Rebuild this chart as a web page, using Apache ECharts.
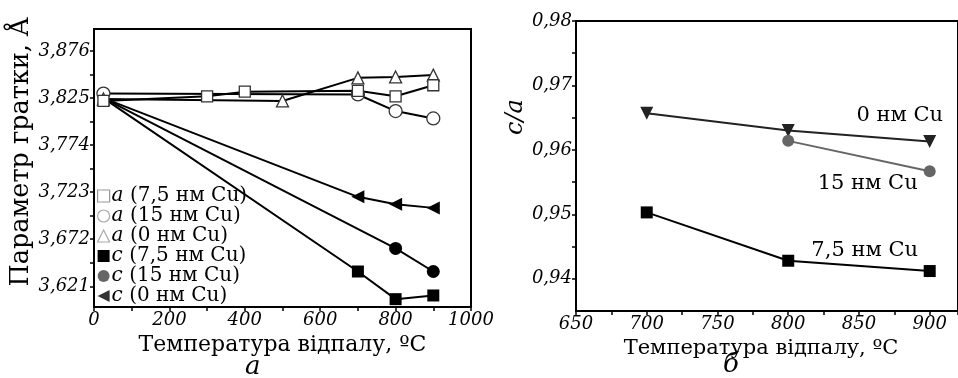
<!DOCTYPE html>
<html><head><meta charset="utf-8">
<script src="https://cdn.jsdelivr.net/npm/echarts@6/dist/echarts.min.js"></script>
<style>html,body{margin:0;padding:0;background:#fff}#c{width:958px;height:378px}</style>
</head><body><div id="c"></div>
<script>
// ---- left panel (а): lattice parameters ----
const tA75 = [25, 300, 400, 700, 800, 900];
const valA75 = [3.822, 3.827, 3.832, 3.833, 3.827, 3.839];
const tA15 = [25, 700, 800, 900];
const valA15 = [3.830, 3.829, 3.811, 3.803];
const tA0 = [25, 500, 700, 800, 900];
const valA0 = [3.824, 3.822, 3.847, 3.848, 3.850];
const tC75 = [25, 700, 800, 900];
const valC75 = [3.825, 3.637, 3.607, 3.611];
const tC15 = [25, 800, 900];
const valC15 = [3.825, 3.662, 3.637];
const tC0 = [25, 700, 800, 900];
const valC0 = [3.825, 3.718, 3.710, 3.706];
const leftYTicks = [3.621, 3.672, 3.723, 3.774, 3.825, 3.876];
const leftNames = ['a (7,5 нм Cu)', 'a (15 нм Cu)', 'a (0 нм Cu)', 'c (7,5 нм Cu)', 'c (15 нм Cu)', 'c (0 нм Cu)'];

// ---- right panel (б): c/a ----
const tR = [700, 800, 900];
const valR0 = [0.9657, 0.9630, 0.9613];
const tR15 = [800, 900];
const valR15 = [0.9614, 0.9567];
const valR75 = [0.9503, 0.9428, 0.9412];
const rightYTicks = [0.94, 0.95, 0.96, 0.97, 0.98];
const rightNames = ['0 нм Cu', '15 нм Cu', '7,5 нм Cu'];

const SERIF = '"DejaVu Serif", "Liberation Serif", serif';
const pairs = (xs, ys) => xs.map((x, i) => [x, ys[i]]);
const comma = (v, d) => v.toFixed(d).replace('.', ',');

function midTicks(arr, lo) {
  const out = [];
  const step = arr[1] - arr[0];
  let v = arr[0] - step / 2;
  while (v >= lo) { out.unshift(+v.toFixed(5)); v -= step / 2; }
  arr.forEach((t, i) => { out.push(t); if (i < arr.length - 1) out.push(+((t + arr[i + 1]) / 2).toFixed(5)); });
  return out;
}

const chart = echarts.init(document.getElementById('c'), null, {renderer: 'canvas'});

const lineBase = {type: 'line', lineStyle: {color: '#000', width: 2}, z: 3, animation: false};
function openS(name, xs, ys, sym, size) {
  return Object.assign({}, lineBase, {
    name, xAxisIndex: 0, yAxisIndex: 0, data: pairs(xs, ys),
    symbol: sym, symbolSize: size, showAllSymbol: true,
    itemStyle: {color: '#fff', borderColor: '#333', borderWidth: 1.3}, z: 4
  });
}
function fillS(name, xs, ys, sym, size, rot) {
  return Object.assign({}, lineBase, {
    name, xAxisIndex: 0, yAxisIndex: 0,
    data: pairs(xs, ys).map((p, i) => i === 0 ? {value: p, symbolSize: 0} : {value: p}),
    symbol: sym, symbolSize: size, symbolRotate: rot || 0, showAllSymbol: true,
    itemStyle: {color: '#000', borderWidth: 0}
  });
}
function rightS(name, xs, ys, sym, size, rot, col, lineCol, off) {
  const d = pairs(xs, ys).map(p => ({value: p}));
  d[d.length - 1].label = {show: true, formatter: name, position: 'inside', offset: off,
    color: '#000', fontFamily: SERIF, fontSize: 21};
  return Object.assign({}, lineBase, {
    name, xAxisIndex: 1, yAxisIndex: 1, data: d,
    symbol: sym, symbolSize: size, symbolRotate: rot || 0, showAllSymbol: true,
    itemStyle: {color: col, borderWidth: 0},
    lineStyle: {color: lineCol, width: 2},
    label: {show: false}
  });
}

const axisCommon = {
  axisLine: {show: true, onZero: false, lineStyle: {color: '#000', width: 2}},
  axisTick: {show: true, inside: false, length: 4, lineStyle: {color: '#000', width: 1.5}},
  splitLine: {show: false},
  axisLabel: {color: '#000', fontFamily: SERIF, fontStyle: 'italic', fontSize: 18, margin: 4}
};

const option = {
  backgroundColor: '#fff',
  animation: false,
  grid: [
    {left: 94, top: 29, width: 377, height: 278, show: true, borderColor: '#000', borderWidth: 2, containLabel: false},
    {left: 576, top: 21, width: 385, height: 290, show: true, borderColor: '#000', borderWidth: 2, containLabel: false}
  ],
  xAxis: [
    Object.assign({}, axisCommon, {
      type: 'value', gridIndex: 0, min: 0, max: 1000, interval: 200,
      minorTick: {show: true, splitNumber: 2, length: 4, lineStyle: {color: '#000', width: 1.5}},
      axisLabel: Object.assign({}, axisCommon.axisLabel, {formatter: v => String(v)}),
      name: 'Температура відпалу, ºC', nameLocation: 'middle', nameGap: 22,
      nameTextStyle: {color: '#000', fontFamily: SERIF, fontSize: 22}
    }),
    Object.assign({}, axisCommon, {
      type: 'value', gridIndex: 1, min: 650, max: 920, interval: 50,
      minorTick: {show: true, splitNumber: 2, length: 4, lineStyle: {color: '#000', width: 1.5}},
      axisLabel: Object.assign({}, axisCommon.axisLabel, {showMaxLabel: false, formatter: v => String(v)}),
      name: 'Температура відпалу, ºC', nameLocation: 'middle', nameGap: 13,
      nameTextStyle: {color: '#000', fontFamily: SERIF, fontSize: 21, padding: [0, 12, 0, 0]}
    })
  ],
  yAxis: [
    Object.assign({}, axisCommon, {
      type: 'value', gridIndex: 0, min: 3.5985, max: 3.900,
      axisTick: Object.assign({}, axisCommon.axisTick, {customValues: midTicks(leftYTicks, 3.5985)}),
      axisLabel: Object.assign({}, axisCommon.axisLabel, {customValues: leftYTicks, formatter: v => comma(v, 3)}),
      name: 'Параметр гратки, Å', nameLocation: 'middle', nameGap: 50,
      nameTextStyle: {color: '#000', fontFamily: SERIF, fontSize: 25.5, padding: [0, 0, 0, 32]}
    }),
    Object.assign({}, axisCommon, {
      type: 'value', gridIndex: 1, min: 0.935, max: 0.98,
      axisTick: Object.assign({}, axisCommon.axisTick, {customValues: midTicks(rightYTicks, 0.935)}),
      axisLabel: Object.assign({}, axisCommon.axisLabel, {customValues: rightYTicks, formatter: v => comma(v, 2)}),
      name: 'c/a', nameLocation: 'middle', nameGap: 40,
      nameTextStyle: {color: '#000', fontFamily: SERIF, fontStyle: 'italic', fontSize: 24, padding: [0, 0, 0, 98]}
    })
  ],
  legend: {
    orient: 'vertical', left: 97, top: 186, itemGap: 0, itemWidth: 12, itemHeight: 12,
    padding: 0, selectedMode: false,
    textStyle: {color: '#000', fontFamily: SERIF, fontSize: 20, lineHeight: 20, padding: [0, 0, 0, -3],
      rich: {i: {fontStyle: 'italic', fontFamily: SERIF, fontSize: 20, lineHeight: 20, color: '#000'}}},
    formatter: n => '{i|' + n.charAt(0) + '}' + n.slice(1),
    data: [
      {name: leftNames[0], icon: 'rect', itemStyle: {color: '#fff', borderColor: '#999', borderWidth: 1.2}},
      {name: leftNames[1], icon: 'circle', itemStyle: {color: '#fff', borderColor: '#aaa', borderWidth: 1.2}},
      {name: leftNames[2], icon: 'triangle', itemStyle: {color: '#fff', borderColor: '#aaa', borderWidth: 1.2}},
      {name: leftNames[3], icon: 'rect', itemStyle: {color: '#000', borderWidth: 0}},
      {name: leftNames[4], icon: 'circle', itemStyle: {color: '#666', borderWidth: 0}},
      {name: leftNames[5], icon: 'path://M10,0 L0,5 L10,10 Z', itemStyle: {color: '#333', borderWidth: 0}}
    ]
  },
  graphic: [
    {type: 'text', left: 245, top: 354, style: {text: 'а', font: 'italic 26px ' + SERIF, fill: '#000'}},
    {type: 'text', left: 723, top: 352, style: {text: 'б', font: 'italic 26px ' + SERIF, fill: '#000'}}
  ],
  series: [
    fillS(leftNames[3], tC75, valC75, 'rect', 12),
    fillS(leftNames[4], tC15, valC15, 'circle', 13),
    fillS(leftNames[5], tC0, valC0, 'triangle', 13, 90),
    openS(leftNames[1], tA15, valA15, 'circle', 13),
    openS(leftNames[2], tA0, valA0, 'triangle', 12),
    openS(leftNames[0], tA75, valA75, 'rect', 11),
    rightS(rightNames[0], tR, valR0, 'triangle', 13, 180, '#222', '#222', [-30, -26]),
    rightS(rightNames[1], tR15, valR15, 'circle', 12, 0, '#666', '#666', [-62, 12]),
    rightS(rightNames[2], tR, valR75, 'rect', 12, 0, '#000', '#000', [-65, -20])
  ]
};
chart.setOption(option);
</script>
</body></html>
